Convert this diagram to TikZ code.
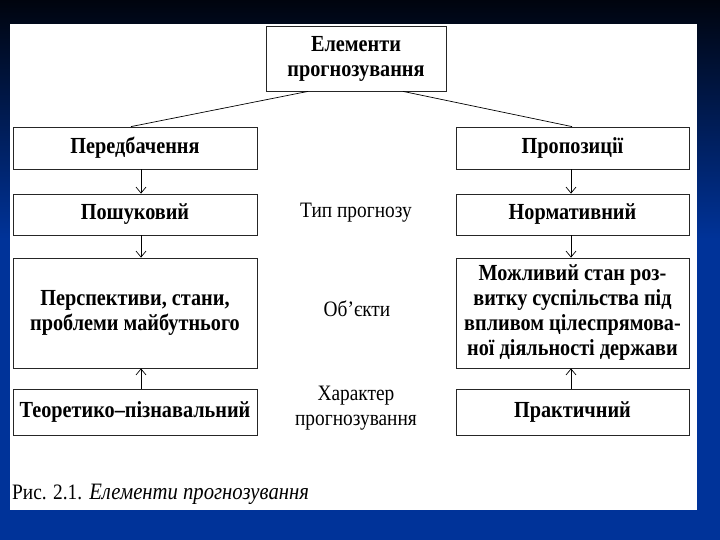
\documentclass[tikz,border=0pt]{standalone}
\usepackage{fontspec}
\setmainfont{Liberation Serif}
\newfontfamily\condfont[FakeStretch=0.88]{Liberation Serif}
\usetikzlibrary{arrows.meta}
\definecolor{bgblue}{RGB}{0,51,153}
\definecolor{bgdark}{RGB}{0,4,14}
\tikzset{
  box/.style={draw=black!85, line width=0.8pt, fill=white, inner sep=0pt, align=center,
    font=\condfont\fontsize{23}{25}\selectfont\bfseries},
  lbl/.style={inner sep=0pt, align=center, font=\condfont\fontsize{22}{24.5}\selectfont},
  conn/.style={line width=0.7pt, draw=black},
  arr/.style={conn, -{Straight Barb[length=6pt,width=10pt]}}
}
\begin{document}
\begin{tikzpicture}[x=1pt,y=-1pt]
\useasboundingbox (0,0) rectangle (720,540);
\fill[bgblue] (0,0) rectangle (720,540);
\shade[top color=bgdark, bottom color=bgblue] (0,0) rectangle (720,240);
\fill[white] (10,24) rectangle (697,510);

\node[box, minimum width=180pt, minimum height=65pt] (top) at (356,58.5) {Елементи\\прогнозування};

\node[box, minimum width=244pt, minimum height=42pt] (pred) at (135,148) {Передбачення};
\node[box, minimum width=244pt, minimum height=41pt] (posh) at (135,214.5) {Пошуковий};
\node[box, minimum width=244pt, minimum height=110pt] (persp) at (135,313) {Перспективи, стани,\\проблеми майбутнього};
\node[box, minimum width=244pt, minimum height=46pt] (teor) at (135,412) {Теоретико–пізнавальний};

\node[box, minimum width=233pt, minimum height=42pt] (prop) at (572.5,148) {Пропозиції};
\node[box, minimum width=233pt, minimum height=41pt] (norm) at (572.5,214.5) {Нормативний};
\node[box, minimum width=233pt, minimum height=110pt] (mozh) at (572.5,313) {Можливий стан роз-\\витку суспільства під\\впливом цілеспрямова-\\ної діяльності держави};
\node[box, minimum width=233pt, minimum height=46pt] (prakt) at (572.5,412) {Практичний};

\node[lbl] (typ) at (356,213) {Тип прогнозу};
\node[lbl] (obj) at (357,309) {Об’єкти};
\node[lbl] (har) at (356,408) {Характер\\прогнозування};

\node[anchor=west, inner sep=0pt, font=\condfont\fontsize{22}{24}\selectfont] (cap) at (12,494) {Рис. 2.1.\hspace{7pt}{\fontsize{23.5}{26}\selectfont\itshape Елементи прогнозування}};

\draw[conn] ([xshift=-48pt]top.south) -- ([xshift=-4pt]pred.north);
\draw[conn] ([xshift=47pt]top.south) -- ([xshift=-0.5pt]prop.north);

\draw[arr] ([xshift=6pt]pred.south) -- ([xshift=6pt]posh.north);
\draw[arr] ([xshift=6pt]posh.south) -- ([xshift=6pt]persp.north);
\draw[arr] ([xshift=6pt]teor.north) -- ([xshift=6pt]persp.south);
\draw[arr] ([xshift=-1.5pt]prop.south) -- ([xshift=-1.5pt]norm.north);
\draw[arr] ([xshift=-1.5pt]norm.south) -- ([xshift=-1.5pt]mozh.north);
\draw[arr] ([xshift=-1.5pt]prakt.north) -- ([xshift=-1.5pt]mozh.south);
\end{tikzpicture}
\end{document}
